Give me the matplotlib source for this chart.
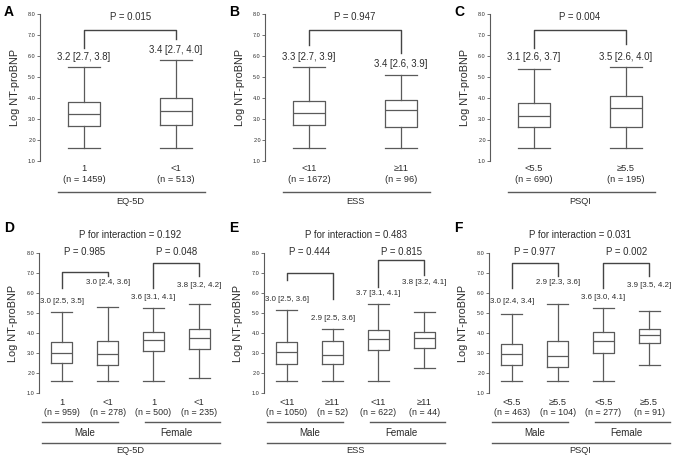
"""
Log NT-proBNP by EQ-5D / ESS / PSQI groups, overall and by sex
"""
import matplotlib
matplotlib.use("Agg")
import matplotlib.pyplot as plt

plt.rcParams["font.family"] = ["Liberation Sans", "DejaVu Sans"]

LINE = "#5a5a5a"
TEXT = "#2b2b2b"

# ---- top row: overall (A, B, C) ----
TOP_LETTERS = ["A", "B", "C"]
TOP_SCALE = ["EQ-5D", "ESS", "PSQI"]
TOP_GROUPS = [["1", "<1"], ["<11", "≥11"], ["<5.5", "≥5.5"]]
TOP_N = [["1459", "513"], ["1672", "96"], ["690", "195"]]
TOP_MED = [[3.23, 3.38], [3.28, 3.40], [3.15, 3.52]]
TOP_Q1 = [[2.67, 2.72], [2.68, 2.62], [2.60, 2.62]]
TOP_Q3 = [[3.82, 3.97], [3.87, 3.92], [3.73, 4.07]]
TOP_LO = [[1.60, 1.60], [1.60, 1.60], [1.60, 1.60]]
TOP_HI = [[5.45, 5.82], [5.45, 5.08], [5.38, 5.47]]
TOP_LABEL = [["3.2 [2.7, 3.8]", "3.4 [2.7, 4.0]"],
             ["3.3 [2.7, 3.9]", "3.4 [2.6, 3.9]"],
             ["3.1 [2.6, 3.7]", "3.5 [2.6, 4.0]"]]
TOP_P = ["P = 0.015", "P = 0.947", "P = 0.004"]
# label heights and bracket leg ends (left, right)
TOP_LABEL_Y = [[5.94, 6.30], [5.94, 5.60], [5.94, 5.94]]
TOP_LEG_Y = [[6.37, 6.80], [6.50, 6.13], [6.40, 6.55]]

# ---- bottom row: by sex (D, E, F) ----
BOT_LETTERS = ["D", "E", "F"]
BOT_INTER = ["P for interaction = 0.192", "P for interaction = 0.483",
             "P for interaction = 0.031"]
BOT_N = [["959", "278", "500", "235"], ["1050", "52", "622", "44"],
         ["463", "104", "277", "91"]]
BOT_MED = [[3.02, 2.95, 3.65, 3.78], [3.05, 2.90, 3.72, 3.75],
           [2.98, 2.88, 3.60, 3.93]]
BOT_Q1 = [[2.50, 2.43, 3.10, 3.20], [2.48, 2.45, 3.15, 3.25],
          [2.42, 2.33, 3.02, 3.50]]
BOT_Q3 = [[3.55, 3.62, 4.08, 4.22], [3.57, 3.63, 4.15, 4.07],
          [3.45, 3.62, 4.08, 4.22]]
BOT_LO = [[1.60, 1.60, 1.60, 1.75], [1.60, 1.60, 1.60, 2.25],
          [1.60, 1.60, 1.60, 2.43]]
BOT_HI = [[5.07, 5.33, 5.28, 5.45], [5.17, 4.23, 5.45, 5.08],
          [4.98, 5.45, 5.27, 5.12]]
BOT_LABEL = [["3.0 [2.5, 3.5]", "3.0 [2.4, 3.6]", "3.6 [3.1, 4.1]", "3.8 [3.2, 4.2]"],
             ["3.0 [2.5, 3.6]", "2.9 [2.5, 3.6]", "3.7 [3.1, 4.1]", "3.8 [3.2, 4.1]"],
             ["3.0 [2.4, 3.4]", "2.9 [2.3, 3.6]", "3.6 [3.0, 4.1]", "3.9 [3.5, 4.2]"]]
BOT_P = [["P = 0.985", "P = 0.048"], ["P = 0.444", "P = 0.815"],
         ["P = 0.977", "P = 0.002"]]
BOT_LABEL_Y = [[5.58, 6.53, 5.80, 6.40], [5.70, 4.75, 5.97, 6.53],
               [5.58, 6.53, 5.80, 6.40]]
BOT_BAR_Y = [[7.08, 7.53], [7.03, 7.67], [7.50, 7.50]]
BOT_LEG_Y = [[6.25, 6.87, 6.25, 6.87], [6.67, 5.70, 6.33, 6.92],
             [6.25, 6.87, 6.25, 6.87]]


def style_axis(axis):
    """only the left spine with tiny ticks"""
    for side in ["top", "right", "bottom"]:
        axis.spines[side].set_visible(False)
    axis.spines["left"].set_color(LINE)
    axis.spines["left"].set_linewidth(0.8)
    axis.set_ylim(1, 8)
    axis.set_yticks(range(1, 9))
    axis.set_yticklabels(["{:.1f}".format(v) for v in range(1, 9)])
    axis.tick_params(axis="y", length=2, width=0.6, pad=1,
                     labelsize=4, colors=LINE, labelcolor=TEXT)
    axis.set_xticks([])
    axis.set_ylabel("Log NT-proBNP", fontsize=7.8, color=TEXT)
    axis.yaxis.set_label_coords(-0.11, 0.5)


def draw_boxes(axis, med, q1, q3, low, high, width):
    stats = []
    for i in range(len(med)):
        stats.append({"med": med[i], "q1": q1[i], "q3": q3[i],
                      "whislo": low[i], "whishi": high[i], "fliers": []})
    pos = list(range(1, len(med) + 1))
    props = {"color": LINE, "linewidth": 0.9}
    axis.bxp(stats, positions=pos, widths=width, capwidths=width,
             showfliers=False, boxprops=props, whiskerprops=props,
             capprops=props, medianprops=props, manage_ticks=False)


def bracket(axis, x0, x1, top, leg0, leg1):
    axis.plot([x0, x0, x1, x1], [leg0, top, top, leg1], color="#444444",
              linewidth=1.0, clip_on=False)


fig = plt.figure(figsize=(6.75, 4.58), dpi=100)
W, H = 675.0, 458.0

# top row
for k in range(3):
    left = 40 + 225 * k
    ax = fig.add_axes([left / W, (H - 160.7) / H, 182 / W, 146.7 / H])
    style_axis(ax)
    ax.set_xlim(0.52, 2.5)
    draw_boxes(ax, TOP_MED[k], TOP_Q1[k], TOP_Q3[k], TOP_LO[k], TOP_HI[k], 0.35)
    for i in range(2):
        ax.text(i + 1, TOP_LABEL_Y[k][i], TOP_LABEL[k][i], ha="center",
                va="center", fontsize=6.9, color=TEXT)
        ax.text(i + 1, 0.65, TOP_GROUPS[k][i], ha="center", va="center",
                fontsize=6.7, color=TEXT, clip_on=False)
        ax.text(i + 1, 0.08, "(n = {})".format(TOP_N[k][i]), ha="center",
                va="center", fontsize=6.7, color=TEXT, clip_on=False)
    bracket(ax, 1, 2, 7.23, TOP_LEG_Y[k][0], TOP_LEG_Y[k][1])
    ax.text(1.5, 7.85, TOP_P[k], ha="center", va="center", fontsize=6.9,
            color=TEXT)
    ax.plot([0.716, 2.31], [-0.50, -0.50], color=LINE, linewidth=1.0,
            clip_on=False)
    ax.text(1.5, -0.97, TOP_SCALE[k], ha="center", va="center", fontsize=6.7,
            color=TEXT, clip_on=False)
    fig.text((4 + 225 * k) / W, (H - 12) / H, TOP_LETTERS[k], fontsize=10,
             fontweight="bold", va="center", ha="left")

# bottom row
for k in range(3):
    left = 39 + 225 * k
    ax = fig.add_axes([left / W, (H - 393.3) / H, 187.5 / W, 140 / H])
    style_axis(ax)
    ax.set_ylim(1, 8)
    ax.set_xlim(0.497, 4.6)
    draw_boxes(ax, BOT_MED[k], BOT_Q1[k], BOT_Q3[k], BOT_LO[k], BOT_HI[k], 0.46)
    groups = TOP_GROUPS[k] * 2
    for i in range(4):
        ax.text(i + 1, BOT_LABEL_Y[k][i], BOT_LABEL[k][i], ha="center",
                va="center", fontsize=5.7, color=TEXT, clip_on=False)
        ax.text(i + 1, 0.52, groups[i], ha="center", va="center",
                fontsize=6.7, color=TEXT, clip_on=False)
        ax.text(i + 1, 0.02, "(n = {})".format(BOT_N[k][i]), ha="center",
                va="center", fontsize=6.4, color=TEXT, clip_on=False)
    for j in range(2):
        x0 = 1 + 2 * j
        bracket(ax, x0, x0 + 1, BOT_BAR_Y[k][j], BOT_LEG_Y[k][2 * j],
                BOT_LEG_Y[k][2 * j + 1])
        ax.text(x0 + 0.5, 8.05, BOT_P[k][j], ha="center", va="center",
                fontsize=6.9, color=TEXT, clip_on=False)
    ax.text(2.5, 8.92, BOT_INTER[k], ha="center", va="center", fontsize=6.9,
            color=TEXT, clip_on=False)
    # sex underlines and scale underline
    ax.plot([0.56, 2.22], [-0.43, -0.43], color=LINE, linewidth=1.0,
            clip_on=False)
    ax.plot([2.81, 4.45], [-0.43, -0.43], color=LINE, linewidth=1.0,
            clip_on=False)
    ax.text(1.5, -0.97, "Male", ha="center", va="center", fontsize=7,
            color=TEXT, clip_on=False)
    ax.text(3.5, -0.97, "Female", ha="center", va="center", fontsize=7,
            color=TEXT, clip_on=False)
    ax.plot([0.56, 4.45], [-1.47, -1.47], color=LINE, linewidth=1.0,
            clip_on=False)
    ax.text(2.5, -1.85, TOP_SCALE[k], ha="center", va="center", fontsize=6.7,
            color=TEXT, clip_on=False)
    fig.text((4 + 225 * k) / W, (H - 228) / H, BOT_LETTERS[k], fontsize=10,
             fontweight="bold", va="center", ha="left")

fig.savefig("out.png", dpi=100)
plt.close(fig)
